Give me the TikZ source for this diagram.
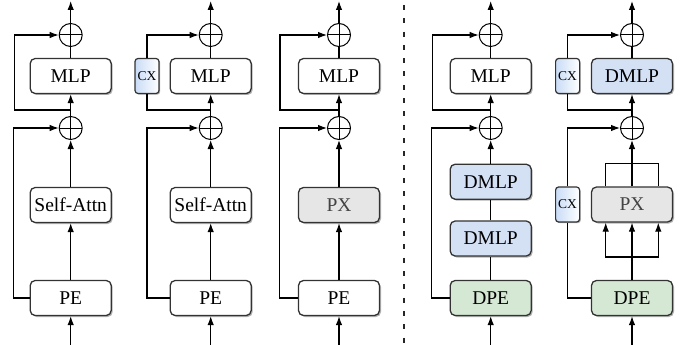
\documentclass[tikz,border=0pt]{standalone}
\usepackage{fontspec}
\setmainfont{Liberation Serif}
\newfontfamily\tnr{Liberation Serif}
\usetikzlibrary{arrows.meta,shadows,calc}
\definecolor{bxline}{HTML}{333333}
\definecolor{dmlpc}{HTML}{D4E1F5}
\definecolor{dpec}{HTML}{D5E8D4}
\definecolor{pxc}{HTML}{E6E6E6}
\definecolor{cxc}{HTML}{C9DCF6}
\definecolor{pxtext}{HTML}{444444}
\tikzset{
  blk/.style={draw=bxline, line width=1.3pt, rounded corners=5pt,
    minimum width=81pt, minimum height=35pt, inner sep=0pt, fill=white,
    drop shadow={shadow xshift=1.5pt, shadow yshift=-1.5pt, fill=black, opacity=0.3}},
  dmlp/.style={blk, fill=dmlpc},
  dpe/.style={blk, fill=dpec},
  pxb/.style={blk, fill=pxc, text=pxtext},
  cxb/.style={draw=bxline, line width=1.2pt, rounded corners=3pt,
    minimum width=24pt, minimum height=35pt, inner sep=0pt,
    left color=cxc, right color=white, font=\tnr\fontsize{13.5}{14}\selectfont,
    drop shadow={shadow xshift=1.2pt, shadow yshift=-1.2pt, fill=black, opacity=0.3}},
  oplus/.style={circle, draw=black, line width=1pt, minimum size=23pt, inner sep=0pt,
    path picture={\draw[line width=1pt] (path picture bounding box.north) -- (path picture bounding box.south)
      (path picture bounding box.west) -- (path picture bounding box.east);}},
  arr/.style={-{Latex[length=9pt,width=6.5pt]}},
  ln/.style={line width=1.1pt, black}
}
\begin{document}
\begin{tikzpicture}[x=1pt,y=-1pt, font=\tnr\fontsize{19.5}{21}\selectfont]
\useasboundingbox (0,0) rectangle (694,345);

% ---------- column 1 ----------
\node[oplus] (c1a) at (70.7,35) {};
\node[blk] (mlp1) at (70.7,76) {MLP};
\node[oplus] (c1b) at (70.7,128) {};
\node[blk] (sa1) at (70.7,205) {Self-Attn};
\node[blk] (pe1) at (70.7,298) {PE};
\coordinate (in1) at (70.7,345);
\coordinate (out1) at (70.7,1);
\coordinate (b1) at (70.7,110);
\draw[ln,arr] (in1) -- (pe1);
\draw[ln,arr] (pe1) -- (sa1);
\draw[ln,arr] (sa1) -- (c1b);
\draw[ln,arr] (c1b) -- (mlp1);
\draw[ln] (mlp1) -- (c1a);
\draw[ln,arr] (c1a) -- (out1);
\draw[ln,arr] (pe1.west) -- ++(-15.7,0) |- (c1b.west);
\draw[ln,arr] (b1) -- ++(-56.4,0) |- (c1a.west);

% ---------- column 2 ----------
\node[oplus] (c2a) at (210.7,35) {};
\node[blk] (mlp2) at (210.7,76) {MLP};
\node[cxb] (cx2) at (147,76) {CX};
\node[oplus] (c2b) at (210.7,128) {};
\node[blk] (sa2) at (210.7,205) {Self-Attn};
\node[blk] (pe2) at (210.7,298) {PE};
\coordinate (in2) at (210.7,345);
\coordinate (out2) at (210.7,1);
\coordinate (b2) at (210.7,110);
\draw[ln,arr] (in2) -- (pe2);
\draw[ln,arr] (pe2) -- (sa2);
\draw[ln,arr] (sa2) -- (c2b);
\draw[ln,arr] (c2b) -- (mlp2);
\draw[ln] (mlp2) -- (c2a);
\draw[ln,arr] (c2a) -- (out2);
\draw[ln,arr] (pe2.west) -- (pe2.west -| cx2.south) |- (c2b.west);
\draw[ln] (b2) -| (cx2.south);
\draw[ln,arr] (cx2.north) |- (c2a.west);

% ---------- column 3 ----------
\node[oplus] (c3a) at (339,35) {};
\node[blk] (mlp3) at (339,76) {MLP};
\node[oplus] (c3b) at (339,128) {};
\node[pxb] (px3) at (339,205) {PX};
\node[blk] (pe3) at (339,298) {PE};
\coordinate (in3) at (339,345);
\coordinate (out3) at (339,1);
\coordinate (b3) at (339,110);
\draw[ln,arr] (in3) -- (pe3);
\draw[ln,arr] (pe3) -- (px3);
\draw[ln,arr] (px3) -- (c3b);
\draw[ln,arr] (c3b) -- (mlp3);
\draw[ln] (mlp3) -- (c3a);
\draw[ln,arr] (c3a) -- (out3);
\draw[ln,arr] (pe3.west) -- ++(-18,0) |- (c3b.west);
\draw[ln,arr] (b3) -- ++(-59,0) |- (c3a.west);

% ---------- divider ----------
\draw[line width=2pt, black!85, dash pattern=on 5pt off 8.3pt] (404,5) -- (404,345);

% ---------- column 4 ----------
\node[oplus] (c4a) at (490.7,35) {};
\node[blk] (mlp4) at (490.7,76) {MLP};
\node[oplus] (c4b) at (490.7,128) {};
\node[dmlp] (dm4a) at (490.7,181.7) {DMLP};
\node[dmlp] (dm4b) at (490.7,238.5) {DMLP};
\node[dpe] (dpe4) at (490.7,298) {DPE};
\coordinate (in4) at (490.7,345);
\coordinate (out4) at (490.7,1);
\coordinate (b4) at (490.7,110);
\draw[ln,arr] (in4) -- (dpe4);
\draw[ln] (dpe4) -- (dm4b);
\draw[ln] (dm4b) -- (dm4a);
\draw[ln,arr] (dm4a) -- (c4b);
\draw[ln,arr] (c4b) -- (mlp4);
\draw[ln] (mlp4) -- (c4a);
\draw[ln,arr] (c4a) -- (out4);
\draw[ln,arr] (dpe4.west) -- ++(-18,0) |- (c4b.west);
\draw[ln,arr] (b4) -- ++(-58.4,0) |- (c4a.west);

% ---------- column 5 ----------
\node[oplus] (c5a) at (632,35) {};
\node[dmlp] (dm5) at (632,76) {DMLP};
\node[cxb] (cx5a) at (567.6,76) {CX};
\node[oplus] (c5b) at (632,128) {};
\node[pxb] (px5) at (632,204.5) {PX};
\node[cxb] (cx5b) at (567.6,204.5) {CX};
\node[dpe] (dpe5) at (632,298) {DPE};
\coordinate (in5) at (632,345);
\coordinate (out5) at (632,1);
\coordinate (b5) at (632,110);
\coordinate (j5) at (632,257);
\draw[ln,arr] (in5) -- (dpe5);
\draw[ln,arr] (dpe5) -- (px5);
\draw[ln,arr] (j5) -| ([xshift=-26.3pt]px5.south);
\draw[ln,arr] (j5) -| ([xshift=26.3pt]px5.south);
\draw[ln,arr] (px5) -- (c5b);
\draw[ln] ([xshift=-26.3pt]px5.north) -- ++(0,-23.3) -- ++(52.6,0) -- ++(0,23.3);
\draw[ln,arr] (c5b) -- (dm5);
\draw[ln] (dm5) -- (c5a);
\draw[ln,arr] (c5a) -- (out5);
\draw[ln] (dpe5.west) -| (cx5b.south);
\draw[ln,arr] (cx5b.north) |- (c5b.west);
\draw[ln] (b5) -| (cx5a.south);
\draw[ln,arr] (cx5a.north) |- (c5a.west);
\end{tikzpicture}
\end{document}
